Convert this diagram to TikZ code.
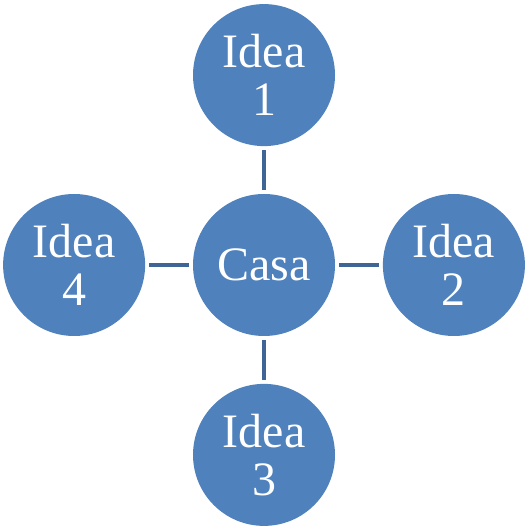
\documentclass[tikz,border=0pt]{standalone}
\usepackage{fontspec}
\setmainfont{Liberation Serif}
\usetikzlibrary{positioning}
\definecolor{ideafill}{HTML}{4F81BD}
\definecolor{idealine}{HTML}{3F6496}
\tikzset{
  idea/.style={circle, fill=ideafill, minimum size=142pt, inner sep=0pt,
    text=white, align=center, font=\fontsize{48}{48}\selectfont},
  link/.style={idealine, line width=3.5pt, shorten <=4pt, shorten >=4pt}
}
\begin{document}
\begin{tikzpicture}[x=1pt,y=1pt]
    \useasboundingbox (0,0) rectangle (528,529);

    \node[idea] (casa) at (264,264) {Casa};
    \node[idea, above=47.5pt of casa] (idea1) {Idea\\1};
    \node[idea, right=47.5pt of casa] (idea2) {Idea\\2};
    \node[idea, below=47.5pt of casa] (idea3) {Idea\\3};
    \node[idea, left=47.5pt of casa] (idea4) {Idea\\4};

    \foreach \n in {idea1,idea2,idea3,idea4}
        \draw[link] (casa) -- (\n);

\end{tikzpicture}
\end{document}
